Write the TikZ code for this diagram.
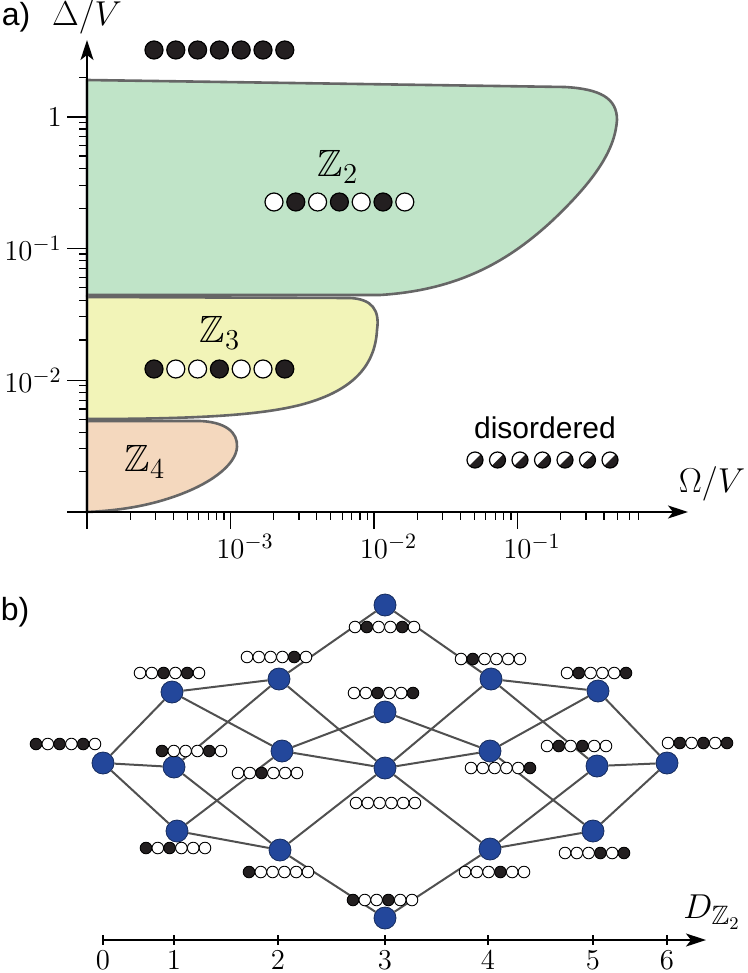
\documentclass[tikz,border=0pt]{standalone}
\usepackage{amsmath}
\usepackage{amssymb}
\usepackage{fontspec}
\newfontfamily\labelfont{Liberation Sans}
\usetikzlibrary{arrows.meta}

\definecolor{ztwocol}{HTML}{C0E4C8}
\definecolor{zthreecol}{HTML}{F2F4B8}
\definecolor{zfourcol}{HTML}{F4D8BE}
\definecolor{rimgray}{HTML}{666666}
\definecolor{linkgray}{HTML}{505050}
\definecolor{confblue}{HTML}{23479B}
\definecolor{atomblack}{HTML}{231F20}

\newcommand{\atomrow}[5]{%
  \foreach \s [count=\i] in {#5}
    \node[\s] (#1\i) at ({#2+(\i-1)*#4},#3) {};}

\begin{document}
\begin{tikzpicture}[
    x=0.5pt, y=-0.5pt,
    region/.style={draw=rimgray, line width=1.3pt},
    axis/.style={line width=0.8pt, -{Stealth[length=10pt, width=6.5pt, inset=2.5pt]}},
    tickmark/.style={line width=0.6pt},
    ticklab/.style={font=\fontsize{15}{17}\selectfont, inner sep=1pt},
    biglab/.style={font=\fontsize{19}{22}\selectfont},
    panel/.style={font=\labelfont\fontsize{16}{19}\selectfont},
    bigocc/.style={circle, draw=black, fill=atomblack, line width=0.6pt, minimum size=9pt, inner sep=0pt},
    bigemp/.style={circle, draw=black, fill=white, line width=0.6pt, minimum size=9pt, inner sep=0pt},
    mixed/.style={circle, draw=black, fill=white, line width=0.6pt, minimum size=8pt, inner sep=0pt,
        path picture={\fill[atomblack] (path picture bounding box.north east) -- (path picture bounding box.south west) -- (path picture bounding box.south east) -- cycle;}},
    occ/.style={circle, draw=black, fill=atomblack, line width=0.45pt, minimum size=5.8pt, inner sep=0pt},
    emp/.style={circle, draw=black, fill=white, line width=0.45pt, minimum size=5.8pt, inner sep=0pt},
    confnode/.style={circle, draw=confblue!60!black, fill=confblue, line width=0.4pt, minimum size=11pt, inner sep=0pt},
    link/.style={draw=linkgray, line width=1pt}
]
    \useasboundingbox (0,0) rectangle (748,973);

    \filldraw[region, fill=ztwocol] (87,80) -- (565,87) .. controls (600,89) and (617,98) .. (617,120) .. controls (615,150) and (595,180) .. (553,220) .. controls (510,260) and (460,290) .. (380,295) -- (87,295) -- cycle;
    \filldraw[region, fill=zthreecol] (87,297) -- (350,298) .. controls (372,299) and (380,310) .. (377,330) .. controls (375,368) and (350,392) .. (300,405) .. controls (260,415) and (200,419) .. (87,419) -- cycle;
    \filldraw[region, fill=zfourcol] (87,421) -- (200,421) .. controls (225,422) and (238,432) .. (237,447) .. controls (236,465) and (210,485) .. (170,498) .. controls (140,508) and (110,511) .. (87,512) -- cycle;

    \coordinate (origin) at (87,512);
    \coordinate (ytip) at (87,40);
    \coordinate (xtip) at (688,512);
    \draw[axis] (origin) -- (ytip);
    \draw[axis] (origin) -- (xtip);

    \foreach \k/\lab in {0/1, 1/10^{-1}, 2/10^{-2}} {
        \draw[tickmark] (67,{117+131.7*\k}) -- (87,{117+131.7*\k});
        \node[ticklab, anchor=east] (ylab\k) at (64,{117+131.7*\k}) {$\lab$};
    }
    \draw[tickmark] (67,512) -- (origin);
    \foreach \d in {0,1,2}
        \foreach \m in {2,...,9}
            \draw[tickmark] (79,{248+131.7*\d-131.7*log10(\m)}) -- (87,{248+131.7*\d-131.7*log10(\m)});
    \draw[tickmark] (79,{117-131.7*log10(2)}) -- (87,{117-131.7*log10(2)});

    \draw[tickmark] (origin) -- (87,529);
    \foreach \k/\lab in {1/-3, 2/-2, 3/-1} {
        \draw[tickmark] ({87+143.5*\k},512) -- ({87+143.5*\k},529);
        \node[ticklab, anchor=north] (xlab\k) at ({87+143.5*\k},532) {$10\rlap{$^{\lab}$}$};
    }
    \foreach \d in {0,1,2}
        \foreach \m in {2,...,9}
            \draw[tickmark] ({87+143.5*\d+143.5*log10(\m)},512) -- ++(0,8);
    \foreach \m in {2,...,7}
        \draw[tickmark] ({87+430.5+143.5*log10(\m)},512) -- ++(0,8);

    \node[panel] (pa) at (16,17) {a)};
    \node[biglab] (dv) at (87,17) {$\Delta/V$};
    \node[biglab] (ov) at (712,484) {$\Omega/V$};

    \node[biglab] (ztwo) at (338,167) {$\mathbb{Z}_2$};
    \node[biglab] (zthree) at (220,333) {$\mathbb{Z}_3$};
    \node[biglab] (zfour) at (145,462) {$\mathbb{Z}_4$};
    \node[font=\labelfont\fontsize{15}{18}\selectfont] (dis) at (545,428) {disordered};

    \atomrow{top}{154}{50}{21.8}{bigocc,bigocc,bigocc,bigocc,bigocc,bigocc,bigocc}
    \atomrow{ztwoa}{274}{202}{21.8}{bigemp,bigocc,bigemp,bigocc,bigemp,bigocc,bigemp}
    \atomrow{zthreea}{154}{369}{21.8}{bigocc,bigemp,bigemp,bigocc,bigemp,bigemp,bigocc}
    \atomrow{disa}{475}{460}{22.5}{mixed,mixed,mixed,mixed,mixed,mixed,mixed}

    \node[panel] (pb) at (15,612) {b)};

    \node[confnode] (n0) at (103,763) {};
    \node[confnode] (a1) at (172,692) {};
    \node[confnode] (b1) at (174,767) {};
    \node[confnode] (c1) at (177,831) {};
    \node[confnode] (a2) at (279,679) {};
    \node[confnode] (b2) at (282,751) {};
    \node[confnode] (c2) at (280,850) {};
    \node[confnode] (t3) at (385,605) {};
    \node[confnode] (u3) at (385,712) {};
    \node[confnode] (m3) at (385,768) {};
    \node[confnode] (d3) at (385,918) {};
    \node[confnode] (a4) at (491,679) {};
    \node[confnode] (b4) at (490,751) {};
    \node[confnode] (c4) at (490,849) {};
    \node[confnode] (a5) at (598,691) {};
    \node[confnode] (b5) at (597,766) {};
    \node[confnode] (c5) at (593,831) {};
    \node[confnode] (n6) at (667,763) {};

    \foreach \p/\q in {n0/a1, n0/b1, n0/c1, a1/a2, a1/b2, b1/a2, b1/c2, c1/b2, c1/c2,
        a2/t3, a2/m3, b2/u3, b2/m3, c2/d3, c2/m3,
        t3/a4, u3/b4, d3/c4, m3/a4, m3/b4, m3/c4,
        a4/a5, a4/b5, b4/a5, b4/c5, c4/b5, c4/c5, a5/n6, b5/n6, c5/n6}
        \draw[link] (\p) -- (\q);

    \atomrow{n0l}{36}{744}{11.8}{occ,emp,occ,emp,occ,emp}
    \atomrow{a1l}{140}{673}{11.8}{emp,emp,occ,emp,occ,emp}
    \atomrow{b1l}{162}{751}{11.8}{occ,emp,emp,emp,occ,emp}
    \atomrow{c1l}{146}{848}{11.8}{occ,emp,occ,emp,emp,emp}
    \atomrow{a2l}{247}{657}{11.8}{emp,emp,emp,emp,occ,emp}
    \atomrow{b2l}{238}{773}{11.8}{emp,emp,occ,emp,emp,emp}
    \atomrow{c2l}{249}{872}{11.8}{occ,emp,emp,emp,emp,emp}
    \atomrow{t3l}{355}{627}{11.8}{emp,occ,emp,emp,occ,emp}
    \atomrow{u3l}{354}{693}{11.8}{emp,emp,occ,emp,emp,occ}
    \atomrow{m3l}{356}{803}{11.8}{emp,emp,emp,emp,emp,emp}
    \atomrow{d3l}{353}{900}{11.8}{occ,emp,emp,occ,emp,emp}
    \atomrow{a4l}{461}{659}{11.8}{emp,occ,emp,emp,emp,emp}
    \atomrow{b4l}{471}{768}{11.8}{emp,emp,emp,emp,emp,occ}
    \atomrow{c4l}{465}{872}{11.8}{emp,emp,emp,occ,emp,emp}
    \atomrow{a5l}{567}{673}{11.8}{emp,occ,emp,emp,emp,occ}
    \atomrow{b5l}{547}{746}{11.8}{emp,occ,emp,occ,emp,emp}
    \atomrow{c5l}{565}{853}{11.8}{emp,emp,emp,occ,emp,occ}
    \atomrow{n6l}{668}{743}{11.8}{emp,occ,emp,occ,emp,occ}

    \coordinate (dstart) at (103,940);
    \coordinate (dtip) at (706,940);
    \draw[axis] (dstart) -- (dtip);
    \foreach \x/\lab in {103/0, 174/1, 278/2, 385/3, 488/4, 593/5, 667/6} {
        \draw[tickmark] (\x,935) -- (\x,945);
        \node[font=\fontsize{15}{17}\selectfont] (dl\lab) at (\x,960) {$\lab$};
    }
    \node[biglab] (dz) at (712,912) {$D_{\mathbb{Z}_2}$};
\end{tikzpicture}
\end{document}
